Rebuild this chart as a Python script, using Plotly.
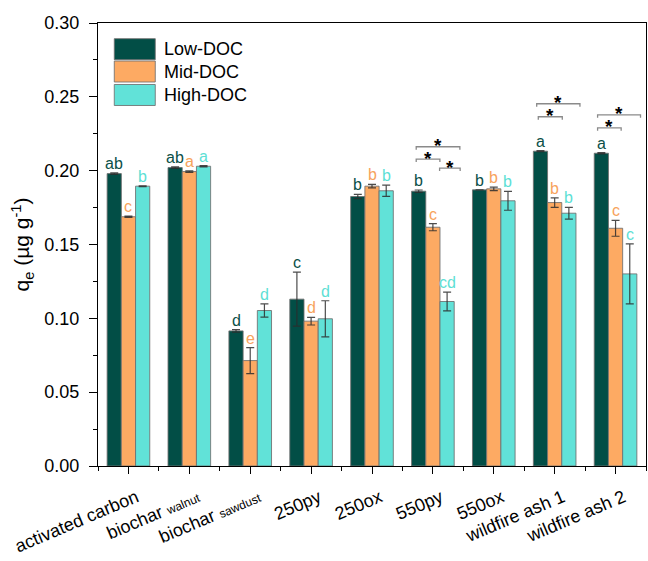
import plotly.graph_objects as go

# ---- data -------------------------------------------------------------
categories = [
    "activated carbon",
    "biochar <span style='font-size:12px'>walnut</span>",
    "biochar <span style='font-size:12px'>sawdust</span>",
    "250py", "250ox", "550py", "550ox", "wildfire ash 1", "wildfire ash 2",
]
series_names = ["Low-DOC", "Mid-DOC", "High-DOC"]

low_doc = [0.1980, 0.2021, 0.0915, 0.1130, 0.1825, 0.1861, 0.1870, 0.2132, 0.2118]
mid_doc = [0.1688, 0.1994, 0.0714, 0.0981, 0.1895, 0.1617, 0.1877, 0.1784, 0.1610]
high_doc = [0.1895, 0.2030, 0.1053, 0.0997, 0.1864, 0.1114, 0.1796, 0.1712, 0.1301]

low_err = [0.0005, 0.0005, 0.0008, 0.0183, 0.0014, 0.0008, 0.0000, 0.0004, 0.0004]
mid_err = [0.0004, 0.0005, 0.0088, 0.0026, 0.0012, 0.0024, 0.0012, 0.0032, 0.0054]
high_err = [0.0003, 0.0004, 0.0045, 0.0122, 0.0038, 0.0063, 0.0064, 0.0040, 0.0203]

low_letters = ["ab", "ab", "d", "c", "b", "b", "b", "a", "a"]
mid_letters = ["c", "a", "e", "d", "b", "c", "b", "b", "c"]
high_letters = ["b", "a", "d", "d", "b", "cd", "b", "b", "c"]

# significance brackets: (category index, bracket height, left/right offset from category centre)
brackets = [
    (5, 0.2162, -0.274, 0.443),
    (5, 0.2078, -0.274, 0.115),
    (5, 0.2017, 0.110, 0.448),
    (7, 0.2453, -0.295, 0.415),
    (7, 0.2365, -0.269, 0.125),
    (8, 0.2378, -0.295, 0.410),
    (8, 0.2290, -0.295, 0.092),
]

# ---- styling ----------------------------------------------------------
fill_colors = ["#024E46", "#FDAA63", "#61E2D8"]
text_colors = ["#0B5048", "#F7A35C", "#5EDFD5"]
FONT = "Arial, 'Liberation Sans', sans-serif"

values = [low_doc, mid_doc, high_doc]
errors = [low_err, mid_err, high_err]
letters = [low_letters, mid_letters, high_letters]

x = list(range(len(categories)))
bargap = 0.3
bar_w = (1 - bargap) / len(series_names)

fig = go.Figure()
for k, name in enumerate(series_names):
    fig.add_trace(go.Bar(
        x=x, y=values[k], name=name,
        marker=dict(color=fill_colors[k],
                    line=dict(color="rgba(110,110,110,0.85)", width=1)),
        error_y=dict(type="data", array=errors[k], visible=True,
                     color="rgba(45,45,45,0.85)", thickness=1.2, width=4),
        showlegend=False,
    ))

annotations = []
# letter groupings above each bar
for k in range(len(series_names)):
    off = (k - 1) * bar_w
    for i in x:
        annotations.append(dict(
            x=i + off, y=values[k][i] + errors[k][i], xref="x", yref="y",
            text=letters[k][i], showarrow=False, yanchor="bottom", yshift=-1,
            font=dict(family=FONT, size=16, color=text_colors[k]),
        ))

# significance brackets with asterisks
tick_drop = 0.002
for cat, level, left, right in brackets:
    x0, x1 = cat + left, cat + right
    fig.add_trace(go.Scatter(
        x=[x0, x0, x1, x1], y=[level - tick_drop, level, level, level - tick_drop],
        mode="lines", line=dict(color="#8a8a8a", width=1.3),
        hoverinfo="skip", showlegend=False,
    ))
    annotations.append(dict(
        x=(x0 + x1) / 2, y=level, xref="x", yref="y", text="<b>*</b>",
        showarrow=False, yanchor="middle", yshift=1,
        font=dict(family=FONT, size=19, color="black"),
    ))

# legend drawn as large swatches with labels
shapes = []
legend_rows = [0.9409, 0.8905, 0.8375]
half_h = 0.0237
for k, name in enumerate(series_names):
    yc = legend_rows[k]
    shapes.append(dict(
        type="rect", xref="paper", yref="paper",
        x0=0.0297, x1=0.1045, y0=yc - half_h, y1=yc + half_h,
        fillcolor=fill_colors[k], line=dict(color="rgba(110,110,110,0.85)", width=1),
    ))
    annotations.append(dict(
        x=0.1167, y=yc, xref="paper", yref="paper", text=name,
        showarrow=False, xanchor="left", yanchor="middle",
        font=dict(family=FONT, size=18, color="black"),
    ))

fig.update_layout(
    width=648, height=561,
    margin=dict(l=98, r=2, t=23, b=95),
    paper_bgcolor="white", plot_bgcolor="white",
    barmode="group", bargap=bargap, bargroupgap=0,
    font=dict(family=FONT, color="black"),
    annotations=annotations, shapes=shapes,
    showlegend=False,
)
fig.update_xaxes(
    range=[-0.5, len(categories) - 0.5], automargin=False,
    tickmode="array", tickvals=x, ticktext=categories,
    tickangle=-23, ticklabelshift=8, ticklabelstandoff=6,
    tickfont=dict(family=FONT, size=18),
    ticks="outside", ticklen=7, tickwidth=1.2, tickcolor="black",
    minor=dict(tickmode="linear", tick0=0.5, dtick=1, ticks="outside",
               ticklen=4, tickwidth=1.2, tickcolor="black"),
    showline=True, linecolor="black", linewidth=1.3, mirror=True,
    showgrid=False, zeroline=False,
)
fig.update_yaxes(
    range=[0, 0.30], dtick=0.05, tick0=0, tickformat=".2f", automargin=False,
    tickfont=dict(family=FONT, size=18),
    ticks="outside", ticklen=8, tickwidth=1.2, tickcolor="black",
    ticklabelstandoff=6,
    minor=dict(dtick=0.025, ticks="outside", ticklen=4, tickwidth=1.2,
               tickcolor="black"),
    showline=True, linecolor="black", linewidth=1.3, mirror=True,
    showgrid=False, zeroline=False,
    title=dict(text="q<sub>e</sub> (µg g<sup>-1</sup>)",
               font=dict(family=FONT, size=21), standoff=8),
)

fig.write_html("out.html")
